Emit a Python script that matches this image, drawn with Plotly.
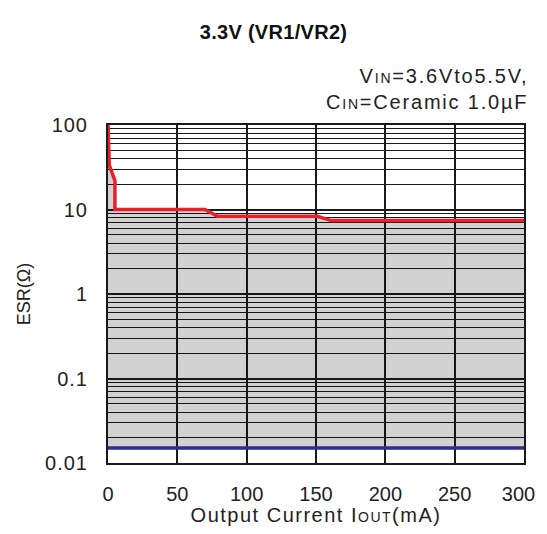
import plotly.graph_objects as go

# ESR stability boundary (upper / lower)
current_upper = [0, 1, 5, 5, 70, 79, 151, 161, 300]
esr_upper = [100, 33, 22, 10, 10, 8.3, 8.3, 7.4, 7.4]
current_lower = [0, 300]
esr_lower = [0.015, 0.015]

x_ticks = [0, 50, 100, 150, 200, 250, 300]
x_tick_text = ["0", "50", "100", "150", "200", "250", "300\u00a0\u00a0"]  # nbsp keeps 300 off the edge
y_ticks = [0.01, 0.1, 1, 10, 100]
y_tick_text = ["0.01", "0.1", "1", "10", "100"]
y_minor = [m * d for d in [0.01, 0.1, 1, 10] for m in range(2, 10)]

FONT = "Liberation Sans, Arial, sans-serif"
INK = "#222"


def wide(txt, ls=1.5):
    # the reference lettering is a bit wider than plain Arial
    return '<span style="letter-spacing:%spx">%s</span>' % (ls, txt)


def small(txt, size=14):
    return '<span style="font-size:%dpx">%s</span>' % (size, txt)


fig = go.Figure()

fig.add_trace(go.Scatter(
    x=current_lower, y=esr_lower, mode="lines",
    line=dict(color="#2b2f8f", width=3.5), showlegend=False,
))
fig.add_trace(go.Scatter(
    x=current_upper, y=esr_upper, mode="lines",
    line=dict(color="#e8202a", width=3.5),
    fill="tonexty", fillcolor="rgba(0,0,0,0.18)", showlegend=False,
))

fig.update_xaxes(
    range=[0, 300], tickvals=x_ticks, ticktext=x_tick_text,
    showgrid=True, gridcolor="#1a1a1a", gridwidth=1.5,
    showline=True, linecolor="#1a1a1a", linewidth=2, mirror=True,
    ticks="", ticklabelstandoff=12, automargin=False, ticklabeloverflow="allow",
    tickfont=dict(size=20, color=INK),
    title=dict(text=wide("Output Current I" + small("OUT") + "(mA)", 1.5),
               font=dict(size=20, color=INK), standoff=5),
    zeroline=False,
)
fig.update_yaxes(
    type="log", range=[-2, 2], tickvals=y_ticks,
    ticktext=[wide(t, 1) for t in y_tick_text],
    showgrid=True, gridcolor="#1a1a1a", gridwidth=1.5,
    minor=dict(tickvals=y_minor, showgrid=True, gridcolor="#1a1a1a", gridwidth=1.2),
    showline=True, linecolor="#1a1a1a", linewidth=2, mirror=True,
    ticks="", ticklabelstandoff=14, automargin=False,
    tickfont=dict(size=20, color=INK),
    title=dict(text="ESR(Ω)", font=dict(size=18, color=INK), standoff=10),
    zeroline=False,
)

fig.add_annotation(
    xref="paper", yref="paper", x=1.0, y=1.0, yshift=10, xshift=6,
    xanchor="right", yanchor="bottom", align="right", showarrow=False,
    text=wide("V" + small("IN") + "=3.6Vto5.5V,", 1.8) + "<br>"
         + wide("C" + small("IN") + "=Ceramic 1.0µF", 1.8),
    font=dict(size=20, color=INK, family=FONT),
)

fig.update_layout(
    width=531, height=518,
    margin=dict(l=100, r=15, t=117, b=63),
    paper_bgcolor="white", plot_bgcolor="white",
    font=dict(family=FONT),
    title=dict(text=wide("<b>3.3V (VR1/VR2)</b>", 0.3), x=0.5, xanchor="center",
               y=0.954, yanchor="middle",
               font=dict(size=20, color="#111")),
)

fig.write_html("out.html")
